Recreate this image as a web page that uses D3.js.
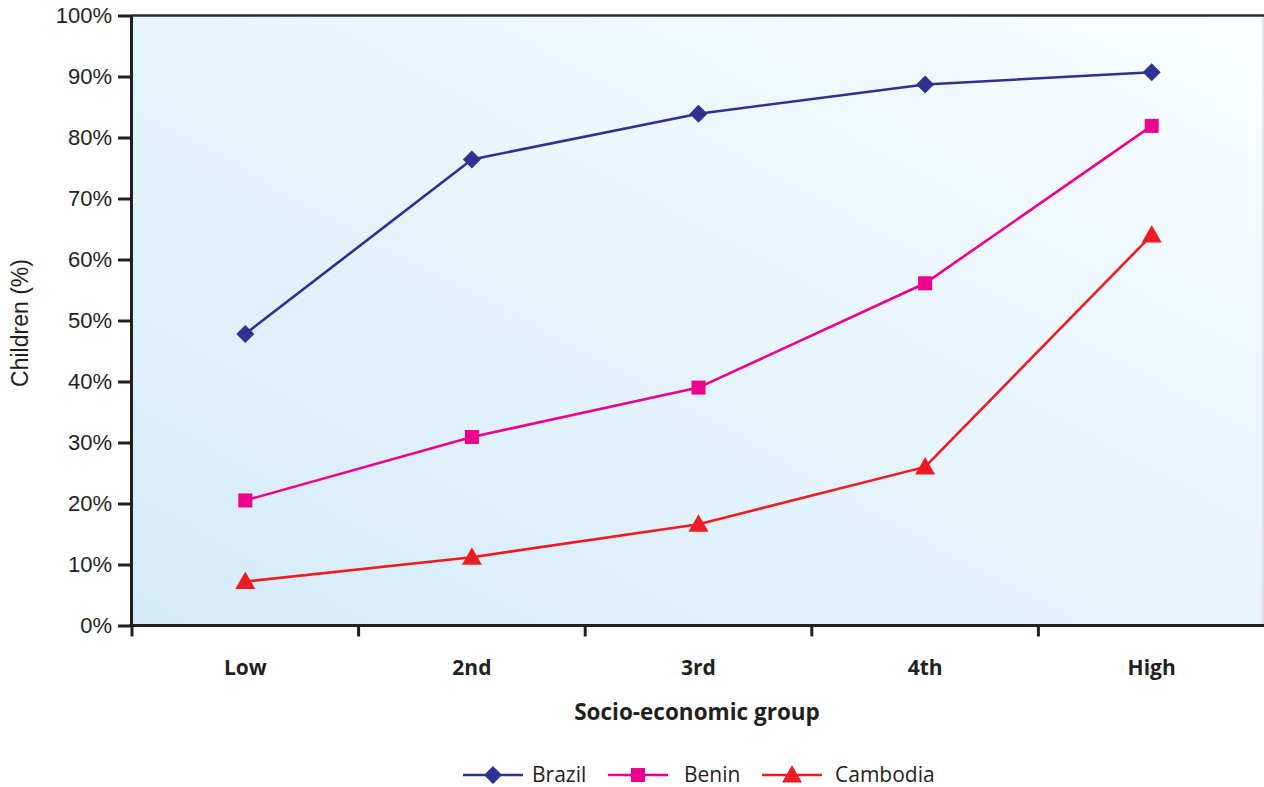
<!DOCTYPE html>
<html>
<head>
<meta charset="utf-8">
<script src="https://cdn.jsdelivr.net/npm/d3@7"></script>
<style>
  html, body { margin: 0; padding: 0; background: #fff; }
  svg { display: block; }
</style>
</head>
<body>
<svg id="chart" width="1264" height="787"></svg>
<script>
// Share of children by socio-economic group, three countries
const categories = ["Low", "2nd", "3rd", "4th", "High"];
const brazil   = [47.8, 76.4, 83.9, 88.7, 90.7];
const benin    = [20.5, 30.9, 39.0, 56.1, 81.9];
const cambodia = [7.2, 11.2, 16.6, 26.0, 64.0];
const yTicks = [0, 10, 20, 30, 40, 50, 60, 70, 80, 90, 100];

const series = [
  { name: "Brazil",   values: brazil,   color: "#2e3192", marker: "diamond" },
  { name: "Benin",    values: benin,    color: "#ec008c", marker: "square" },
  { name: "Cambodia", values: cambodia, color: "#ed1c24", marker: "triangle" }
];

const svg = d3.select("#chart");
const plotLeft = 131, plotRight = 1263, plotTop = 15.5, plotBottom = 625.5;

const x = d3.scaleBand().domain(categories).range([plotLeft + 1, plotRight + 2]).padding(0);
const xc = d => x(d) + x.bandwidth() / 2;
const y = d3.scaleLinear().domain([0, 100]).range([plotBottom, plotTop]);

// plot background gradient
const defs = svg.append("defs");
const grad = defs.append("linearGradient")
  .attr("id", "bg").attr("x1", "0").attr("y1", "1").attr("x2", "1").attr("y2", "0");
grad.append("stop").attr("offset", "0").attr("stop-color", "#d4ebf8");
grad.append("stop").attr("offset", "1").attr("stop-color", "#f9fdff");

svg.append("rect")
  .attr("x", plotLeft).attr("y", plotTop)
  .attr("width", plotRight - plotLeft).attr("height", plotBottom - plotTop)
  .attr("fill", "url(#bg)");

// right frame edge
svg.append("line")
  .attr("x1", plotRight).attr("x2", plotRight).attr("y1", plotTop).attr("y2", plotBottom)
  .attr("stroke", "#c8c8c8").attr("stroke-width", 1);
// top frame edge
svg.append("line")
  .attr("x1", plotLeft).attr("x2", plotRight + 1).attr("y1", plotTop).attr("y2", plotTop)
  .attr("stroke", "#2b2b2b").attr("stroke-width", 2.5);

// y axis
const yAxis = svg.append("g")
  .attr("transform", `translate(${plotLeft},0)`)
  .call(d3.axisLeft(y).tickValues(yTicks).tickFormat(d => d + "%").tickSize(13).tickSizeOuter(0).tickPadding(6));
yAxis.select(".domain").attr("stroke", "#231f20").attr("stroke-width", 3);
yAxis.selectAll(".tick line").attr("stroke", "#231f20").attr("stroke-width", 3);
yAxis.selectAll(".tick text")
  .attr("font-family", "'Liberation Sans', Arial, sans-serif")
  .attr("font-size", 22).attr("fill", "#231f20");

// x axis with ticks on the category boundaries
const xAxisG = svg.append("g").attr("transform", `translate(0,${plotBottom})`);
xAxisG.append("line")
  .attr("x1", plotLeft - 1.5).attr("x2", plotRight + 1).attr("y1", 0).attr("y2", 0)
  .attr("stroke", "#231f20").attr("stroke-width", 3);
xAxisG.selectAll("line.tk")
  .data(categories)
  .join("line")
  .attr("class", "tk")
  .attr("x1", d => x(d)).attr("x2", d => x(d))
  .attr("y1", 0).attr("y2", 11)
  .attr("stroke", "#231f20").attr("stroke-width", 3);
xAxisG.selectAll("text")
  .data(categories)
  .join("text")
  .attr("x", d => xc(d)).attr("y", 49)
  .attr("text-anchor", "middle")
  .attr("font-family", "'Open Sans', sans-serif")
  .attr("font-weight", "bold")
  .attr("font-size", 21).attr("fill", "#231f20")
  .text(d => d);

// axis titles
svg.append("text")
  .attr("x", (plotLeft + plotRight) / 2).attr("y", 720)
  .attr("text-anchor", "middle")
  .attr("font-family", "'Open Sans', sans-serif")
  .attr("font-weight", "bold")
  .attr("font-size", 22.5).attr("fill", "#231f20")
  .text("Socio-economic group");

svg.append("text")
  .attr("transform", "translate(28,323) rotate(-90)")
  .attr("text-anchor", "middle")
  .attr("font-family", "'Liberation Sans', Arial, sans-serif")
  .attr("font-size", 23).attr("fill", "#231f20")
  .text("Children (%)");

// marker shapes
function drawMarker(g, type, color) {
  if (type === "diamond") {
    g.append("path").attr("d", "M0,-9L9,0L0,9L-9,0Z").attr("fill", color);
  } else if (type === "square") {
    g.append("rect").attr("x", -7).attr("y", -7).attr("width", 14).attr("height", 14).attr("fill", color);
  } else {
    g.append("path").attr("d", "M0,-10L10,7.5L-10,7.5Z").attr("fill", color);
  }
}

const line = d3.line().x((d, i) => xc(categories[i])).y(d => y(d));

series.forEach(s => {
  svg.append("path")
    .datum(s.values)
    .attr("d", line)
    .attr("fill", "none")
    .attr("stroke", s.color)
    .attr("stroke-width", 2.6);
  s.values.forEach((v, i) => {
    const g = svg.append("g").attr("transform", `translate(${xc(categories[i])},${y(v)})`);
    drawMarker(g, s.marker, s.color);
  });
});

// legend
const legendItems = [
  { s: series[0], x: 463, tx: 69 },
  { s: series[1], x: 608, tx: 76 },
  { s: series[2], x: 762, tx: 73 }
];
const ly = 775;
legendItems.forEach(it => {
  const g = svg.append("g").attr("transform", `translate(${it.x},${ly})`);
  g.append("line").attr("x1", 0).attr("x2", 60).attr("y1", 0).attr("y2", 0)
    .attr("stroke", it.s.color).attr("stroke-width", 2.6);
  const m = g.append("g").attr("transform", "translate(30,0)");
  drawMarker(m, it.s.marker, it.s.color);
  g.append("text")
    .attr("x", it.tx)
    .attr("y", 6.5)
    .attr("font-family", "'Open Sans', sans-serif")
    .attr("font-size", 21).attr("fill", "#231f20")
    .text(it.s.name);
});
</script>
</body>
</html>
